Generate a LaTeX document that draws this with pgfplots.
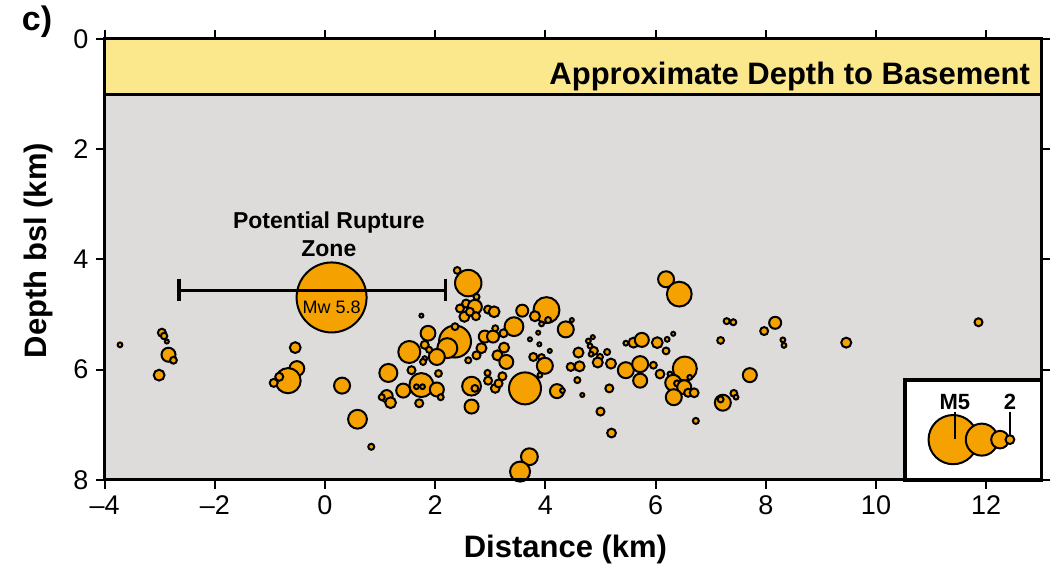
\documentclass[border=0pt]{standalone}
\usepackage{fontspec}
\setmainfont{Liberation Sans}
\usepackage{pgfplots}
\usepackage{pgfplotstable}
\pgfplotsset{compat=1.18}
\usetikzlibrary{calc}
\definecolor{quake}{RGB}{245,162,0}
\definecolor{bg}{RGB}{221,220,219}
\definecolor{band}{RGB}{252,232,140}

\pgfplotstableread{
x y r
-3.72 5.55 1.2
-2.96 5.33 2.0
-2.92 5.39 1.6
-2.87 5.49 1.0
-2.84 5.73 3.5
-2.75 5.83 1.7
-3.01 6.10 2.7
-0.54 5.60 2.7
-0.51 5.98 3.7
-0.67 6.20 6.3
-0.83 6.13 2.0
-0.93 6.24 2.0
0.31 6.29 4.0
0.59 6.90 4.7
0.84 7.40 1.5
1.75 5.02 1.0
2.40 4.20 1.7
2.60 4.43 6.6
2.56 4.80 2.0
2.72 4.86 3.5
2.45 4.89 2.0
2.53 5.04 2.5
2.63 4.95 2.0
2.75 4.68 1.5
2.96 4.91 2.0
3.07 4.95 2.7
2.74 5.03 2.0
2.36 5.49 8.0
2.22 5.61 5.0
1.53 5.68 5.5
1.87 5.34 3.7
1.81 5.55 2.0
2.03 5.77 4.0
2.36 5.22 1.7
2.90 5.40 3.0
3.05 5.40 3.0
2.84 5.61 2.5
2.75 5.74 2.0
1.81 5.80 1.2
1.89 5.64 1.5
2.60 5.83 1.5
1.15 6.06 4.5
3.13 5.74 2.5
1.78 5.86 1.5
2.06 6.07 1.7
1.57 6.01 2.0
1.42 6.38 3.5
1.75 6.28 6.0
1.66 6.31 1.2
1.77 6.31 1.2
2.03 6.36 3.5
2.10 6.50 1.5
1.12 6.48 3.0
1.19 6.60 2.7
1.03 6.50 1.5
1.71 6.61 2.0
2.66 6.30 4.7
2.72 6.34 1.7
2.95 6.06 1.5
2.96 6.20 2.0
3.09 6.34 2.2
2.66 6.67 3.5
4.02 4.92 6.5
3.58 4.93 3.0
3.81 5.03 2.5
4.05 5.10 1.5
3.93 5.17 1.2
4.37 5.27 4.0
4.48 5.10 1.0
3.43 5.22 4.7
3.24 5.34 2.0
3.09 5.25 1.5
3.87 5.33 1.0
3.72 5.45 1.0
3.89 5.54 1.0
4.08 5.66 1.0
3.25 5.60 2.5
3.29 5.86 3.5
3.78 5.77 2.0
3.93 5.78 1.7
3.99 5.93 4.0
4.60 5.69 2.5
4.46 5.95 2.0
4.62 5.94 2.5
4.78 5.48 1.2
4.86 5.41 1.0
4.81 5.57 1.2
4.88 5.66 2.0
4.83 5.72 1.2
4.99 5.77 1.5
4.95 5.87 2.5
5.12 5.68 1.5
5.19 5.89 2.5
3.63 6.34 8.0
3.22 6.12 2.0
3.15 6.25 2.0
3.90 6.10 1.2
4.21 6.39 3.5
4.31 6.38 1.2
4.58 6.19 1.5
4.67 6.46 1.0
5.16 6.34 2.0
5.00 6.76 2.0
5.20 7.15 2.2
3.71 7.58 4.2
3.54 7.85 5.0
6.19 4.36 4.0
6.43 4.63 6.2
7.29 5.12 1.5
7.41 5.14 1.5
7.18 5.47 1.7
6.32 5.35 1.0
5.46 5.52 1.2
5.60 5.51 2.5
5.75 5.46 3.5
6.03 5.51 2.7
6.21 5.45 1.2
6.19 5.66 1.7
6.53 5.98 6.0
5.46 6.01 4.0
5.72 5.90 4.0
5.72 6.20 3.5
5.96 5.92 1.7
6.08 6.08 2.2
6.26 6.08 1.2
6.32 6.24 4.0
6.39 6.25 1.5
6.62 6.14 1.2
6.52 6.32 3.5
6.59 6.42 2.0
6.70 6.42 2.2
6.33 6.50 4.0
6.73 6.93 1.5
7.22 6.60 4.0
7.18 6.54 1.5
7.42 6.43 1.7
7.46 6.50 1.2
8.17 5.15 3.0
7.97 5.30 2.0
8.31 5.46 1.2
8.33 5.56 1.2
9.46 5.51 2.5
7.71 6.10 3.5
11.86 5.14 2.0
}\quakes

\pgfplotstableread{
x y r
0.12 4.69 17.5
}\mainshock

\pgfplotstableread{
x y r
11.40 7.27 12.3
11.92 7.27 8.0
12.25 7.27 4.4
12.43 7.27 2.2
}\sizes

\pgfplotsset{quakestyle/.style={only marks, mark=*, scatter, point meta=\thisrow{r},
  scatter/use mapped color={draw=black, fill=quake},
  visualization depends on={\thisrow{r} \as \rr},
  scatter/@pre marker code/.append style={/tikz/mark size=\rr},
  mark options={line width=1pt}}}

\begin{document}
\begin{tikzpicture}
\begin{axis}[
  scale only axis, width=468.5pt, height=220.5pt,
  xmin=-4, xmax=13, ymin=0, ymax=8, y dir=reverse,
  axis on top, clip=false, clip marker paths=true,
  axis line style={line width=1.5pt},
  axis background/.style={fill=bg},
  xtick={-4,-2,...,12},
  xticklabels={\textendash4,\textendash2,0,2,4,6,8,10,12},
  ytick={0,2,4,6,8}, yticklabels={0,2,4,6,8},
  tick align=outside, tick pos=both, major tick length=4.5pt,
  tick style={line width=1pt, black},
  ticklabel style={font=\fontsize{13.5}{14}\selectfont},
  xlabel={Distance (km)}, ylabel={Depth bsl (km)},
  every axis x label/.style={at={(axis description cs:0.492,0)}, anchor=center, yshift=-35pt, font=\bfseries\fontsize{15.5}{16}\selectfont},
  every axis y label/.style={at={(axis description cs:0,0.52)}, xshift=-33pt, rotate=90, anchor=center, font=\bfseries\fontsize{15.5}{16}\selectfont},
]
% basement band
\addplot[draw=none, fill=band] coordinates {(-4,0) (13,0) (13,1) (-4,1)} -- cycle;
\addplot[black, line width=1.5pt] coordinates {(-4,1) (13,1)};
\node[anchor=east, inner sep=0pt, font=\bfseries\fontsize{15.5}{16}\selectfont] at (axis cs:12.8,0.68) {Approximate Depth to Basement};

% legend box
\addplot[fill=white, draw=black, line width=1.8pt] coordinates {(10.53,8) (10.53,6.19) (13,6.19) (13,8)} -- cycle;
\addplot[quakestyle] table[x=x, y=y] {\sizes};
\addplot[black, line width=0.8pt] coordinates {(11.43,6.76) (11.43,7.26)};
\addplot[black, line width=0.8pt] coordinates {(12.43,6.76) (12.43,7.20)};
\node[font=\bfseries\fontsize{11}{12}\selectfont] at (axis cs:11.43,6.58) {M5};
\node[font=\bfseries\fontsize{11}{12}\selectfont] at (axis cs:12.43,6.58) {2};

% earthquakes
\addplot[quakestyle] table[x=x, y=y] {\quakes};

% rupture zone
\addplot[quakestyle] table[x=x, y=y] {\mainshock};
\addplot[black, line width=1.5pt] coordinates {(-2.65,4.555) (2.19,4.555)};
\addplot[black, line width=1.8pt] coordinates {(-2.65,4.35) (-2.65,4.76)};
\addplot[black, line width=1.8pt] coordinates {(2.19,4.35) (2.19,4.76)};
\node[font=\fontsize{9}{10}\selectfont] at (axis cs:0.12,4.87) {Mw 5.8};
\node[align=center, font=\bfseries\fontsize{11.5}{14}\selectfont] at (axis cs:0.07,3.55) {Potential Rupture\\Zone};
\end{axis}
\node[font=\bfseries\fontsize{17}{18}\selectfont] at ($(current axis.north west)+(-33.8pt,8.5pt)$) {c)};
\pgfresetboundingbox
\path[use as bounding box] ($(current axis.south west)+(-52.3pt,-44.5pt)$) rectangle ($(current axis.north east)+(8.35pt,19.5pt)$);
\end{tikzpicture}
\end{document}
